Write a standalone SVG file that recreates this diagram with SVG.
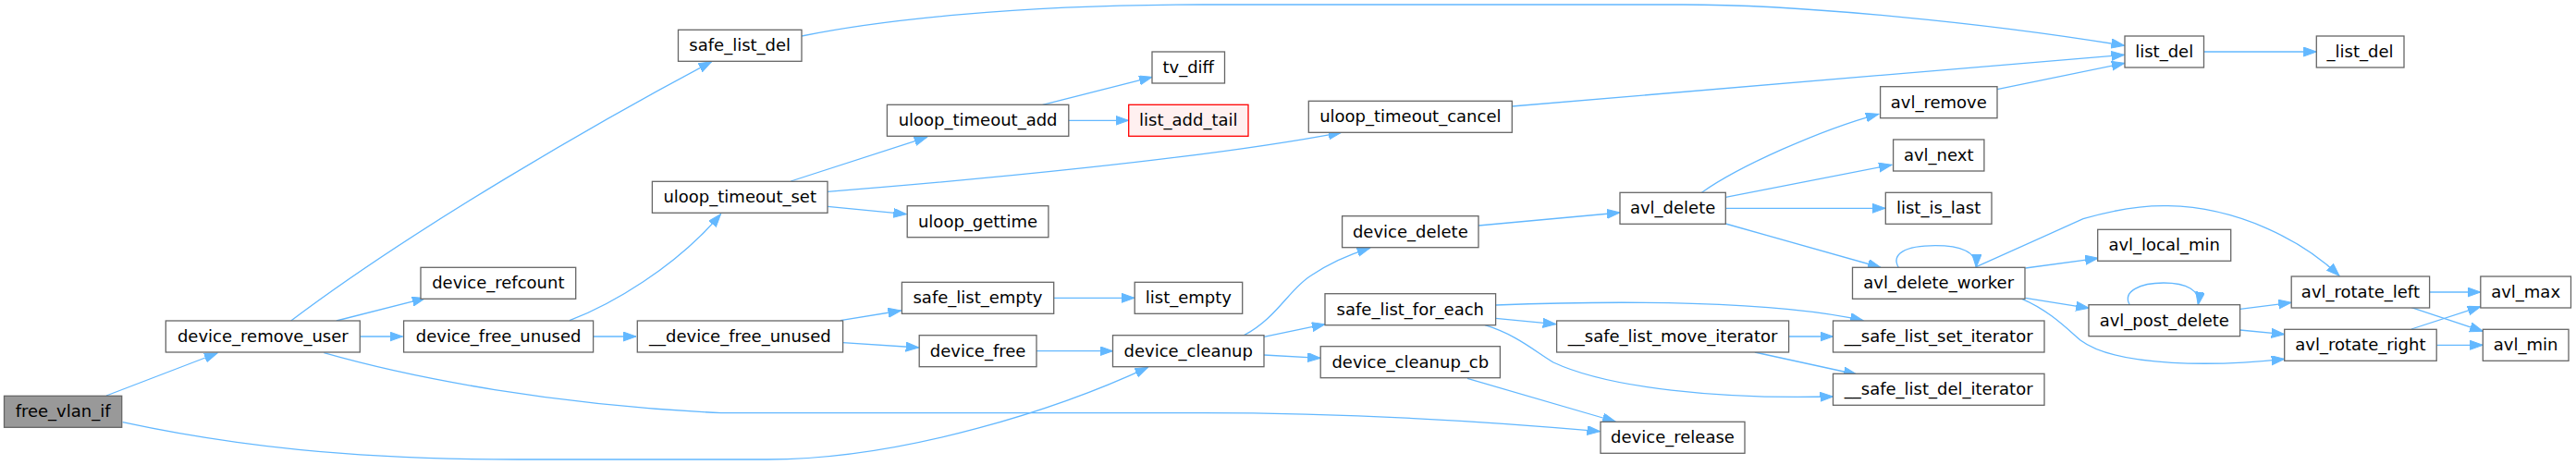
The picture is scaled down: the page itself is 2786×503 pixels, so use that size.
<svg xmlns="http://www.w3.org/2000/svg" width="2786" height="503" viewBox="0 0 2786 503">
<style>
.n rect{fill:#ffffff;stroke:#666666;stroke-width:1.3}
.n text{font-family:"DejaVu Sans",sans-serif;font-size:18px;fill:#000000;text-anchor:middle}
#free_vlan_if rect{fill:#999999}
#list_add_tail rect{fill:#fff0f0;stroke:#ff0000}
.e path{fill:none;stroke:#63b8ff;stroke-width:1.3;marker-end:url(#ah)}
</style>
<defs>
<marker id="ah" markerUnits="userSpaceOnUse" markerWidth="16" markerHeight="12" refX="14" refY="5" orient="auto">
<path d="M0,0 L14,5 L0,10 Z" fill="#63b8ff" stroke="#63b8ff" stroke-width="1"/>
</marker>
</defs>
<rect width="2786" height="503" fill="#ffffff"/>
<g id="edges" class="e">
<path d="M115,428 L235,382"/>
<path d="M132.6,456.7 C250,482 380,497 560,497 L830,497 C980,497 1150,440 1241.5,397.3"/>
<path d="M314.7,347 C450,245 650,130 769.6,66.7"/>
<path d="M363.8,347 L459.8,322.7"/>
<path d="M389.3,364 L435.5,364"/>
<path d="M350.4,381.7 C450,410 600,438 780,446.7 L1300,446.7 C1450,446.7 1600,455 1730.5,466.7"/>
<path d="M616,346.7 C660,330 730,290 779.5,231.7"/>
<path d="M641.5,364 L688,364"/>
<path d="M867,39 C950,22 1100,5 1300,5 L1820,5 C1950,5 2150,25 2297.5,49.3"/>
<path d="M855.3,196 L1002.7,148.3"/>
<path d="M895,207.3 C1050,195 1300,172 1450.7,143.3"/>
<path d="M895,223.3 L980.3,231.7"/>
<path d="M1127.7,113.3 L1246,83.3"/>
<path d="M1155.8,130.3 L1220.5,130.3"/>
<path d="M1635.3,115 L2297.5,59.3"/>
<path d="M908.9,346.7 L974.5,336"/>
<path d="M911.6,370.7 L993.7,376"/>
<path d="M1139.7,322.3 L1227,322.3"/>
<path d="M1121,379.7 L1203.5,379.7"/>
<path d="M1345.4,362.7 C1380,345 1395,312 1418,298 C1437,285 1460,275 1481.7,268.3"/>
<path d="M1367,364.3 L1433,350.7"/>
<path d="M1367,384 L1428.2,387.3"/>
<path d="M1587,409.3 L1747.2,456"/>
<path d="M1599,244 L1752,230"/>
<path d="M1840.5,208.3 C1880,180 1970,140 2031.8,123.3"/>
<path d="M1866.3,213.3 L2046,178.3"/>
<path d="M1866.3,225.3 L2039,225.3"/>
<path d="M1866.3,242 L2034,289.3"/>
<path d="M2160,96.7 L2297.8,68.3"/>
<path d="M1617.6,330 C1750,325 1920,325 2015,346.7"/>
<path d="M1617.6,344.3 L1682.7,350.7"/>
<path d="M1606,351.7 C1640,362 1660,380 1680,392 C1740,420 1860,432 1982.5,429"/>
<path d="M1934.7,364 L1982.5,364"/>
<path d="M1897.9,381 L2008,405"/>
<path d="M2383.5,56 L2505.3,56"/>
<path d="M2053.3,289.3 C2045,275 2060,265.7 2093,265.7 C2120,265.7 2138,272 2137.3,289.3"/>
<path d="M2190.5,290 L2269.2,279.3"/>
<path d="M2137.3,288.7 L2253,236.7 C2290,226 2320,222 2345,222.7 C2420,224 2490,260 2530,298.3"/>
<path d="M2190.5,322.3 L2259.2,333.3"/>
<path d="M2186.7,323.3 C2215,335 2235,355 2250,368 C2290,398 2400,396 2470.7,388.3"/>
<path d="M2303.3,329.7 C2295,315 2315,306 2340,306 C2365,306 2380,314 2377.3,329.7"/>
<path d="M2422.6,334.3 L2478.2,327.3"/>
<path d="M2422.6,357 L2470.7,361.7"/>
<path d="M2627.6,316 L2682.8,316"/>
<path d="M2608,332.7 L2685.3,358.3"/>
<path d="M2608,356 L2682.8,331.7"/>
<path d="M2635.2,373.3 L2685.3,373.3"/>
</g>
<g id="free_vlan_if" class="n"><rect x="4.5" y="428.3" width="127.2" height="34"/><text x="68.1" y="451.3">free_vlan_if</text></g>
<g id="device_remove_user" class="n"><rect x="179.3" y="347" width="210" height="34"/><text x="284.3" y="370">device_remove_user</text></g>
<g id="device_refcount" class="n"><rect x="455" y="289.3" width="167.7" height="34"/><text x="538.8" y="312.3">device_refcount</text></g>
<g id="device_free_unused" class="n"><rect x="436.6" y="347" width="205" height="34"/><text x="539.1" y="370">device_free_unused</text></g>
<g id="safe_list_del" class="n"><rect x="733.5" y="32.3" width="133.5" height="34"/><text x="800.2" y="55.3">safe_list_del</text></g>
<g id="uloop_timeout_set" class="n"><rect x="705.4" y="196.3" width="189.6" height="34"/><text x="800.2" y="219.3">uloop_timeout_set</text></g>
<g id="__device_free_unused" class="n"><rect x="689.3" y="347" width="222.3" height="34"/><text x="800.4" y="370">__device_free_unused</text></g>
<g id="uloop_timeout_add" class="n"><rect x="959.4" y="113.3" width="196.4" height="34"/><text x="1057.6" y="136.3">uloop_timeout_add</text></g>
<g id="tv_diff" class="n"><rect x="1246" y="56" width="78.5" height="34"/><text x="1285.2" y="79">tv_diff</text></g>
<g id="list_add_tail" class="n"><rect x="1220.7" y="113.3" width="129.3" height="34"/><text x="1285.3" y="136.3">list_add_tail</text></g>
<g id="uloop_gettime" class="n"><rect x="981.2" y="222.7" width="152.7" height="34"/><text x="1057.5" y="245.7">uloop_gettime</text></g>
<g id="safe_list_empty" class="n"><rect x="975.4" y="305.3" width="164.3" height="34"/><text x="1057.5" y="328.3">safe_list_empty</text></g>
<g id="list_empty" class="n"><rect x="1227.2" y="305.3" width="116.5" height="34"/><text x="1285.4" y="328.3">list_empty</text></g>
<g id="device_free" class="n"><rect x="994.2" y="362.7" width="126.8" height="34"/><text x="1057.6" y="385.7">device_free</text></g>
<g id="device_cleanup" class="n"><rect x="1203.5" y="362.7" width="163.5" height="34"/><text x="1285.2" y="385.7">device_cleanup</text></g>
<g id="uloop_timeout_cancel" class="n"><rect x="1415.3" y="109.3" width="220" height="34"/><text x="1525.3" y="132.3">uloop_timeout_cancel</text></g>
<g id="device_delete" class="n"><rect x="1451.6" y="233.7" width="147.4" height="34"/><text x="1525.3" y="256.7">device_delete</text></g>
<g id="safe_list_for_each" class="n"><rect x="1433" y="317.7" width="184.6" height="34"/><text x="1525.3" y="340.7">safe_list_for_each</text></g>
<g id="device_cleanup_cb" class="n"><rect x="1428.2" y="374.7" width="194.2" height="34"/><text x="1525.3" y="397.7">device_cleanup_cb</text></g>
<g id="device_release" class="n"><rect x="1731" y="456.3" width="156" height="34"/><text x="1809" y="479.3">device_release</text></g>
<g id="avl_delete" class="n"><rect x="1752" y="208.3" width="114.3" height="34"/><text x="1809.1" y="231.3">avl_delete</text></g>
<g id="__safe_list_move_iterator" class="n"><rect x="1683.6" y="347" width="251" height="34"/><text x="1809.1" y="370">__safe_list_move_iterator</text></g>
<g id="__safe_list_set_iterator" class="n"><rect x="1982.5" y="347" width="228.5" height="34"/><text x="2096.7" y="370">__safe_list_set_iterator</text></g>
<g id="__safe_list_del_iterator" class="n"><rect x="1982.5" y="404.3" width="228.5" height="34"/><text x="2096.7" y="427.3">__safe_list_del_iterator</text></g>
<g id="list_del" class="n"><rect x="2298" y="39" width="85.5" height="34"/><text x="2340.7" y="62">list_del</text></g>
<g id="_list_del" class="n"><rect x="2505.3" y="39" width="94.7" height="34"/><text x="2552.6" y="62">_list_del</text></g>
<g id="avl_remove" class="n"><rect x="2033.6" y="93.7" width="126.4" height="34"/><text x="2096.8" y="116.7">avl_remove</text></g>
<g id="avl_next" class="n"><rect x="2047.6" y="151" width="98.3" height="34"/><text x="2096.7" y="174">avl_next</text></g>
<g id="list_is_last" class="n"><rect x="2039.3" y="208.3" width="114.7" height="34"/><text x="2096.6" y="231.3">list_is_last</text></g>
<g id="avl_local_min" class="n"><rect x="2268.7" y="248.3" width="144" height="34"/><text x="2340.7" y="271.3">avl_local_min</text></g>
<g id="avl_delete_worker" class="n"><rect x="2003.5" y="289.3" width="186.5" height="34"/><text x="2096.7" y="312.3">avl_delete_worker</text></g>
<g id="avl_post_delete" class="n"><rect x="2259" y="329.7" width="163.6" height="34"/><text x="2340.8" y="352.7">avl_post_delete</text></g>
<g id="avl_rotate_left" class="n"><rect x="2478.2" y="299" width="149.4" height="34"/><text x="2552.9" y="322">avl_rotate_left</text></g>
<g id="avl_rotate_right" class="n"><rect x="2470.7" y="356.3" width="164.5" height="34"/><text x="2552.9" y="379.3">avl_rotate_right</text></g>
<g id="avl_max" class="n"><rect x="2682.8" y="299" width="97.7" height="34"/><text x="2731.6" y="322">avl_max</text></g>
<g id="avl_min" class="n"><rect x="2685.3" y="356.3" width="92.7" height="34"/><text x="2731.6" y="379.3">avl_min</text></g>
</svg>
